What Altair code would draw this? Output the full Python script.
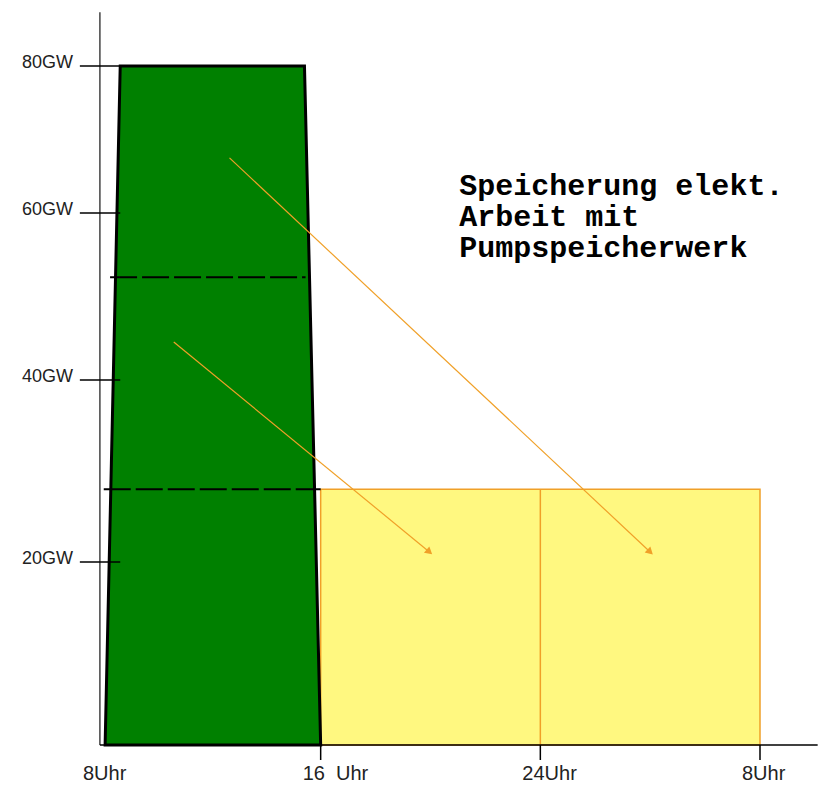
import altair as alt
import pandas as pd

# ---- data ----
x_tick_hours = [8, 16, 24, 32]
x_tick_labels = ["8Uhr", "16\u00a0\u00a0Uhr", "24Uhr", "8Uhr"]
y_tick_values = [20, 40, 60, 80]
y_tick_labels = ["20GW", "40GW", "60GW", "80GW"]

# green trapezoid (daytime load)
green_x = [8.15, 8.70, 15.41, 16.0]
green_y = [0, 80, 80, 0]

# yellow block (night pumping)
yellow_start = [16]
yellow_end = [32]
yellow_level = [28]
yellow_divider = [24]

# dashed levels inside the green block
dash_level = [52.3, 28.0]
dash_x0 = [8.33, 8.10]
dash_x1 = [15.45, 16.0]

# arrows
arrow_x0 = [12.68, 10.65]
arrow_y0 = [67.5, 44.55]
arrow_x1 = [28.0, 19.96]
arrow_y1 = [21.1, 21.1]

note_text = ["Speicherung elekt.", "Arbeit mit", "Pumpspeicherwerk"]
note_x = [21.05]
note_y = [62.45]

axis_x_start = 7.96
axis_x_end = 34.1
axis_y_end = 87.3

# ---- scales ----
XS = alt.Scale(domain=[8, 32], range=[93, 752], nice=False, zero=False)
# hand-drawn original: uneven spacing of the GW ticks -> piecewise linear
YS = alt.Scale(domain=[0, 20, 40, 60, 80], range=[737, 554, 372, 205, 58], nice=False, zero=False)


def X(f):
    return alt.X(f, type="quantitative", scale=XS, axis=None)


def Y(f):
    return alt.Y(f, type="quantitative", scale=YS, axis=None)


def XD(v):
    return alt.XDatum(v, type="quantitative", scale=XS, axis=None)


def YD(v):
    return alt.YDatum(v, type="quantitative", scale=YS, axis=None)


green_df = pd.DataFrame({"x": green_x, "y": green_y})
yellow_df = pd.DataFrame({"x": yellow_start, "x2": yellow_end, "y": yellow_level, "d": yellow_divider})
dash_df = pd.DataFrame({"x": dash_x0, "x2": dash_x1, "y": dash_level})
arrow_df = pd.DataFrame({"x": arrow_x0, "y": arrow_y0, "x2": arrow_x1, "y2": arrow_y1})
xt_df = pd.DataFrame({"x": x_tick_hours, "label": x_tick_labels})
xt_marks = xt_df[xt_df.x > 8].reset_index(drop=True)
yt_df = pd.DataFrame({"y": y_tick_values, "label": y_tick_labels})
note_df = pd.DataFrame({"x": note_x, "y": note_y, "text": ["\n".join(note_text)]})
one = pd.DataFrame({"a": [0]})

ORANGE = "#F0A028"
LABEL_FONT = "Liberation Sans"

green = alt.Chart(green_df).mark_area(
    color="#008000", stroke="black", strokeWidth=3, strokeJoin="miter"
).encode(x=X("x"), y=Y("y"), y2=alt.datum(0))

yellow = alt.Chart(yellow_df).mark_rect(
    fill="#FFF880", stroke=ORANGE, strokeWidth=1.5
).encode(x=X("x"), x2="x2", y=Y("y"), y2=alt.datum(0))

divider = alt.Chart(yellow_df).mark_rule(color=ORANGE, strokeWidth=1.5).encode(
    x=X("d"), y=Y("y"), y2=alt.datum(0)
)

dashes = alt.Chart(dash_df).mark_rule(
    color="black", strokeWidth=2, strokeDash=[27, 5]
).encode(x=X("x"), x2="x2", y=Y("y"))

arrows = alt.Chart(arrow_df).mark_rule(color=ORANGE, strokeWidth=1.2).encode(
    x=X("x"), y=Y("y"), x2="x2", y2="y2"
)

head1 = alt.Chart(arrow_df.iloc[[0]]).mark_point(
    shape="triangle-up", filled=True, color=ORANGE, size=70, angle=133, opacity=1
).encode(x=X("x2"), y=Y("y2"))
head2 = alt.Chart(arrow_df.iloc[[1]]).mark_point(
    shape="triangle-up", filled=True, color=ORANGE, size=70, angle=130, opacity=1
).encode(x=X("x2"), y=Y("y2"))

y_axis_line = alt.Chart(one).mark_rule(color="#444444", strokeWidth=1.5).encode(
    x=XD(axis_x_start), y=YD(0), y2=alt.datum(axis_y_end)
)
x_axis_line = alt.Chart(one).mark_rule(color="black", strokeWidth=1.5).encode(
    x=XD(axis_x_start), x2=alt.datum(axis_x_end), y=YD(0)
)

x_ticks = alt.Chart(xt_marks).mark_tick(
    orient="vertical", size=15, thickness=1.5, color="black", yOffset=7.5, opacity=1
).encode(x=X("x"), y=YD(0))

y_ticks = alt.Chart(yt_df).mark_rule(color="black", strokeWidth=1.5).encode(
    y=Y("y"), x=XD(7.23), x2=alt.datum(8.70)
)

x_labels = alt.Chart(xt_df).mark_text(
    align="left", baseline="alphabetic", dx=-18, dy=35, font=LABEL_FONT, fontSize=20, color="#222222"
).encode(x=X("x"), y=YD(0), text="label:N")

y_labels = alt.Chart(yt_df).mark_text(
    align="right", baseline="alphabetic", dx=-28, dy=2, font=LABEL_FONT, fontSize=18, color="#222222"
).encode(y=Y("y"), x=XD(8), text="label:N")

note = alt.Chart(note_df).mark_text(
    align="left", baseline="alphabetic", font="Liberation Mono", fontWeight="bold",
    fontSize=30, lineBreak="\n", lineHeight=31, color="black"
).encode(x=X("x"), y=Y("y"), text="text:N")

chart = alt.layer(
    yellow, divider, green, dashes, arrows, head1, head2,
    y_axis_line, x_axis_line, x_ticks, y_ticks, x_labels, y_labels, note
).properties(
    width=810, height=777, autosize=alt.AutoSizeParams(type="none"), padding=0, background="white"
).configure_view(stroke=None)

chart.save("out.html", embed_options={"renderer": "svg", "actions": False})
